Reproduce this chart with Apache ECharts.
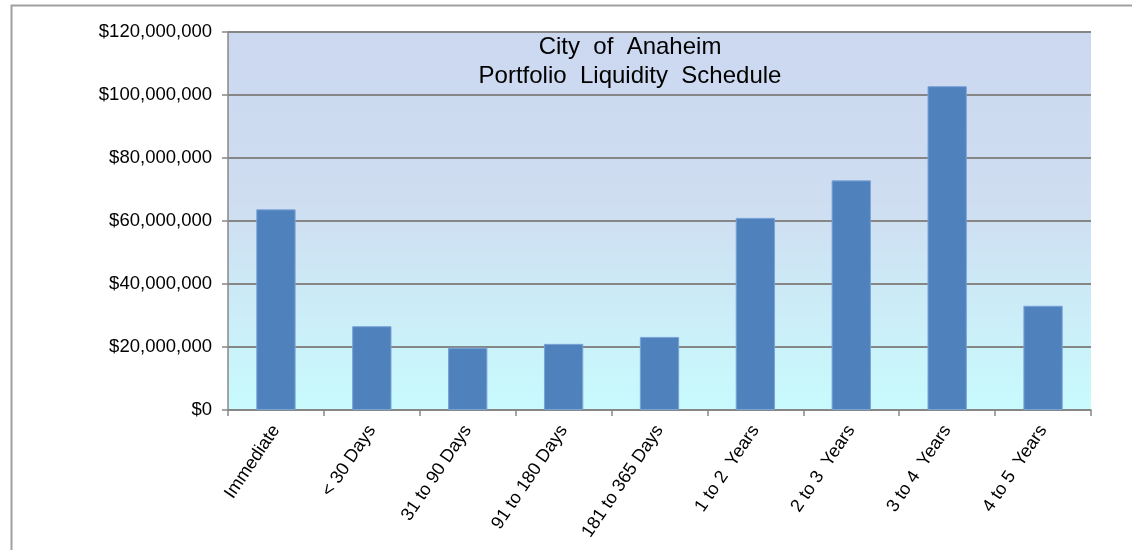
<!DOCTYPE html>
<html>
<head>
<meta charset="utf-8">
<script src="https://cdn.jsdelivr.net/npm/echarts@6/dist/echarts.min.js"></script>
<style>
    html, body { margin: 0; padding: 0; background: #fff; }
    #chart { width: 1132px; height: 550px; }
</style>
</head>
<body>
<div id="chart"></div>
<script>
// maturity buckets and the amount held in each one
const categories = ['Immediate', '< 30 Days', '31 to 90 Days', '91 to 180 Days', '181 to 365 Days',
    '1 to 2  Years', '2 to 3  Years', '3 to 4  Years', '4 to 5  Years'];
const amounts = [63700000, 26600000, 19800000, 21000000, 23200000, 61000000, 72900000, 102800000, 33100000];
const yTicks = [0, 20000000, 40000000, 60000000, 80000000, 100000000, 120000000];

const font = "'Liberation Sans', Arial, sans-serif";
const chart = echarts.init(document.getElementById('chart'));

chart.setOption({
    animation: false,
    title: {
        text: 'City  of  Anaheim\nPortfolio  Liquidity  Schedule',
        left: 630,
        top: 33,
        padding: 0,
        textAlign: 'center',
        textStyle: { fontFamily: font, fontSize: 24, fontWeight: 'normal', color: '#000', lineHeight: 29 }
    },
    // outer frame: only the left and top edges show in the picture
    graphic: [{
        type: 'polyline',
        shape: { points: [[11.5, 550], [11.5, 5.5], [1132, 5.5]] },
        style: { stroke: '#a0a0a0', lineWidth: 2, fill: null },
        silent: true
    }],
    grid: {
        left: 228, right: 41, top: 32, bottom: 140,
        show: true,
        borderWidth: 0,
        backgroundColor: {
            type: 'linear', x: 0, y: 0, x2: 0, y2: 1,
            colorStops: [
                { offset: 0, color: '#cbd8f0' },
                { offset: 0.45, color: '#cfddf1' },
                { offset: 1, color: '#c8fbfd' }
            ]
        }
    },
    xAxis: {
        type: 'category',
        data: categories,
        axisLine: { lineStyle: { color: '#888', width: 1.5 } },
        axisTick: { show: true, length: 6, lineStyle: { color: '#888', width: 1.5 } },
        axisLabel: {
            interval: 0, rotate: 56, margin: 17,
            fontFamily: font, fontSize: 18, color: '#000'
        }
    },
    yAxis: {
        type: 'value',
        min: yTicks[0],
        max: yTicks[yTicks.length - 1],
        interval: yTicks[1] - yTicks[0],
        axisLine: { show: true, lineStyle: { color: '#888', width: 1.5 } },
        axisTick: { show: true, length: 6, lineStyle: { color: '#888', width: 1.5 } },
        splitLine: { lineStyle: { color: '#868686', width: 2 } },
        axisLabel: {
            margin: 16,
            fontFamily: font, fontSize: 18.5, color: '#000',
            formatter: v => '$' + v.toLocaleString('en-US')
        }
    },
    series: [{
        type: 'bar',
        data: amounts,
        barWidth: '41%',
        itemStyle: { color: '#4f81bd', borderColor: '#7aa3d6', borderWidth: 1 }
    }]
});
</script>
</body>
</html>
